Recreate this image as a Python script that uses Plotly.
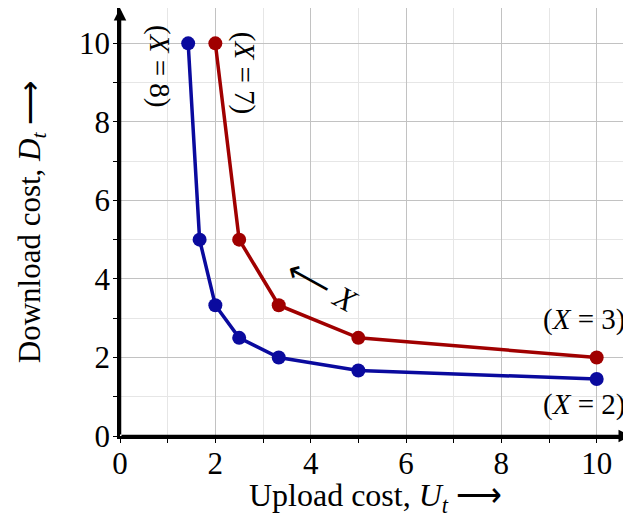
import plotly.graph_objects as go

# Data
x_blue = [1.43, 1.67, 2.0, 2.5, 3.33, 5.0, 10.0]
y_blue = [10.0, 5.0, 3.33, 2.5, 2.0, 1.67, 1.45]
x_red = [2.0, 2.5, 3.33, 5.0, 10.0]
y_red = [10.0, 5.0, 3.33, 2.5, 2.0]
tick_vals = [0, 2, 4, 6, 8, 10]
tick_text = ["0", "2", "4", "6", "8", "10"]

FONT = "Liberation Serif"
BLUE = "#0a0a9e"
RED = "#a00000"

fig = go.Figure()
fig.add_trace(go.Scatter(x=x_blue, y=y_blue, mode="lines+markers",
                         line=dict(color=BLUE, width=3.5),
                         marker=dict(color=BLUE, size=14), cliponaxis=False,
                         showlegend=False))
fig.add_trace(go.Scatter(x=x_red, y=y_red, mode="lines+markers",
                         line=dict(color=RED, width=3.5),
                         marker=dict(color=RED, size=14), cliponaxis=False,
                         showlegend=False))

axis_common = dict(
    showgrid=True, gridcolor="#c2c2c2", gridwidth=1,
    zeroline=False, showline=True, linecolor="black", linewidth=2.5,
    ticks="outside", ticklen=4, tickcolor="black", tickwidth=1,
    tickvals=tick_vals, ticktext=tick_text,
    tickfont=dict(family=FONT, size=31, color="black"),
    automargin=False,
    minor=dict(dtick=1, showgrid=True, gridcolor="#e6e6e6", gridwidth=1,
               ticks="outside", ticklen=4, tickcolor="black"),
)

fig.update_xaxes(range=[0, 10.72], ticklabelstandoff=-6,
                 title=dict(text="Upload cost, <i>U</i><sub><i>t</i></sub> ⟶",
                            font=dict(family=FONT, size=32, color="black"),
                            standoff=9),
                 **axis_common)
fig.update_yaxes(range=[0, 10.9], ticklabelstandoff=-3,
                 title=dict(text="Download cost, <i>D</i><sub><i>t</i></sub> ⟶",
                            font=dict(family=FONT, size=31, color="black"),
                            standoff=30),
                 **axis_common)

ann_font = dict(family=FONT, size=29, color="black")
annotations = [
    dict(x=0.84, y=9.42, text="(<i>X</i> = 8)", textangle=90, showarrow=False, font=ann_font),
    dict(x=2.6, y=9.25, text="(<i>X</i> = 7)", textangle=90, showarrow=False, font=ann_font),
    dict(x=9.73, y=2.96, text="(<i>X</i> = 3)", showarrow=False, font=ann_font),
    dict(x=9.73, y=0.79, text="(<i>X</i> = 2)", showarrow=False, font=ann_font),
    dict(x=4.25, y=3.82, text="⟵ <i>X</i>", textangle=29, showarrow=False,
         font=dict(family=FONT, size=32, color="black")),
    # axis arrows
    dict(x=10.72, y=0, ax=0, ay=0, xref="x", yref="y", axref="x", ayref="y",
         text="", showarrow=True, arrowhead=2, arrowsize=1, arrowwidth=2.5, arrowcolor="black"),
    dict(x=0, y=10.9, ax=0, ay=0, xref="x", yref="y", axref="x", ayref="y",
         text="", showarrow=True, arrowhead=2, arrowsize=1, arrowwidth=2.5, arrowcolor="black"),
]

# The page body has an 8px margin, so the figure is 8px smaller than the window.
fig.update_layout(
    width=623, height=510,
    margin=dict(l=112, r=0, t=0, b=82),
    plot_bgcolor="white", paper_bgcolor="white",
    annotations=annotations,
)

fig.write_html("out.html")
